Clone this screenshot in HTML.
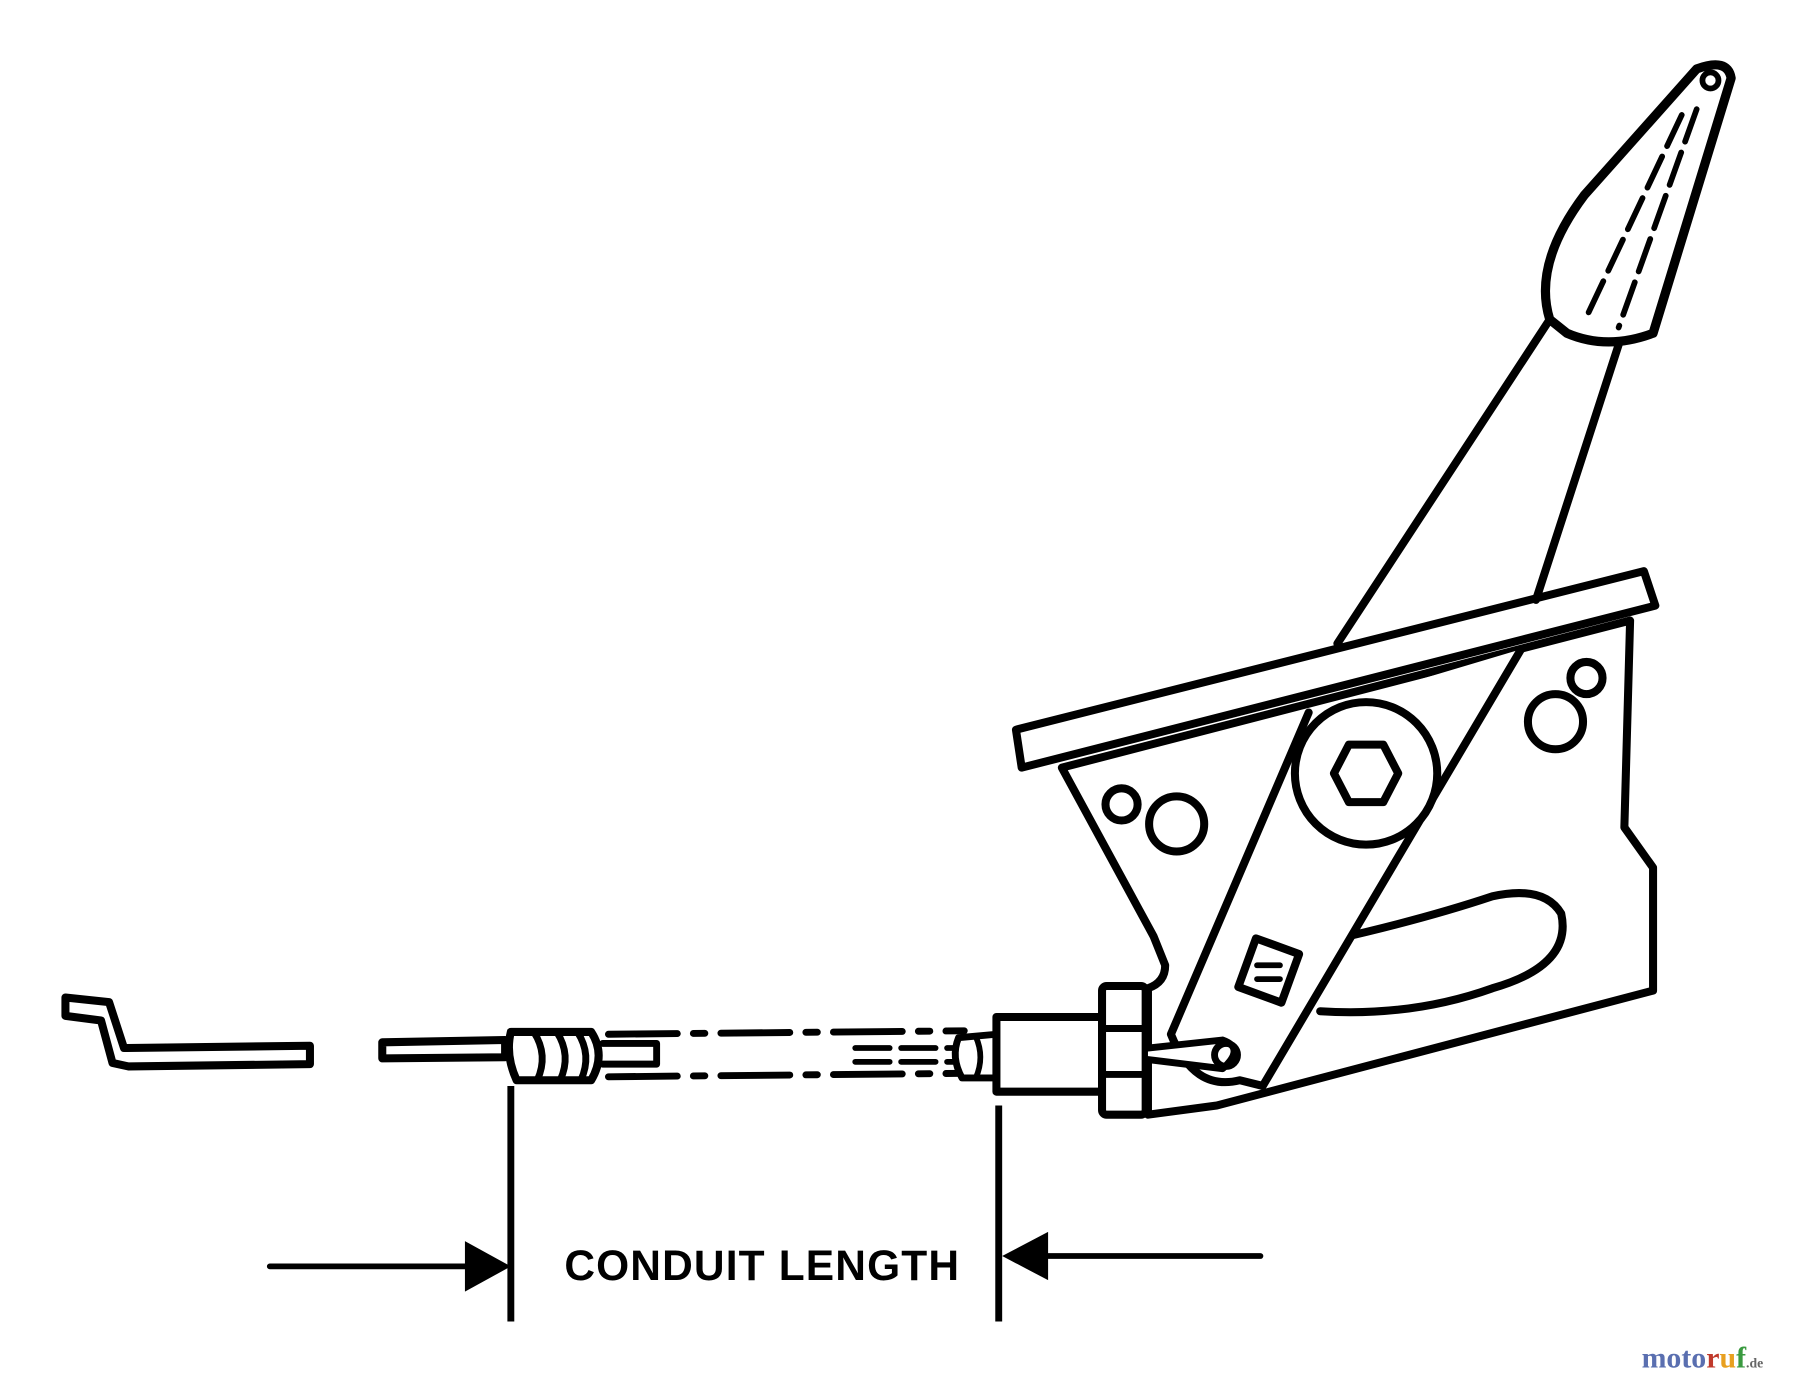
<!DOCTYPE html>
<html><head><style>
html,body{margin:0;padding:0;background:#fff;}
svg{display:block;}
</style></head><body>
<svg width="1800" height="1379" viewBox="0 0 1568 1200" preserveAspectRatio="none" xmlns="http://www.w3.org/2000/svg">
<rect width="1568" height="1200" fill="#fff"/>
<g fill="none" stroke="#000" stroke-linejoin="round" stroke-linecap="round">
<path d="M57,875 L57,868 L95,872 L108,912 L270,910 L270,926 L112,928 L98,925 L88,888 L57,884 Z" stroke-width="7" fill="#fff"/>
<path d="M333,907 L440,905 L440,920 L333,921 Z" stroke-width="7" fill="#fff"/>
<path d="M445,898 L515,898 Q528,918 515,940 L450,940 Q440,918 445,898 Z" stroke-width="7" fill="#fff"/>
<path d="M465,898 Q478,918 468,940 M485,898 Q498,918 488,940 M503,898 Q516,918 506,940" stroke-width="6"/>
<path d="M525,908 L572,908 L572,926 L525,926" stroke-width="6"/>
<path d="M530,900 L840,897" stroke-width="6" stroke-dasharray="60,14,10,14"/>
<path d="M530,937 L840,934" stroke-width="6" stroke-dasharray="60,14,10,14"/>
<path d="M745,912 L830,912 M745,924 L830,924" stroke-width="5" stroke-dasharray="30,10"/>
<path d="M835,903 L868,900 L868,938 L838,938 Q828,920 835,903 Z" stroke-width="6" fill="#fff"/>
<path d="M850,902 Q858,920 850,938" stroke-width="5"/>
<rect x="868" y="885" width="92" height="65" stroke-width="7" fill="#fff"/>
<rect x="960" y="858" width="38" height="112" rx="4" stroke-width="7" fill="#fff"/>
<path d="M960,895 L998,895 M960,935 L998,935" stroke-width="6"/>
<path d="M925,668 L1420,540 L1415,720 L1440,755 L1440,862 L1060,962 L1000,970 L1000,880 L1000,860 Q1015,855 1015,840 L1005,815 Z" stroke-width="7" fill="#fff"/>
<path d="M885,635 L1432,497 L1442,527 L890,668 Z" stroke-width="7" fill="#fff"/>
<circle cx="977" cy="700" r="14" stroke-width="7"/>
<circle cx="1025" cy="717" r="24" stroke-width="7"/>
<circle cx="1382" cy="590" r="14" stroke-width="7"/>
<circle cx="1355" cy="628" r="24" stroke-width="7"/>
<path d="M1160,818 Q1240,800 1300,780 Q1345,770 1360,795 Q1370,840 1300,860 Q1230,885 1150,880" stroke-width="7"/>
<path d="M1140,620 L1020,900 Q1040,950 1080,940 L1100,945 L1325,565" stroke-width="7" fill="#fff"/>
<circle cx="1190" cy="673" r="62" stroke-width="7" fill="#fff"/>
<path d="M1175,648 L1205,648 L1218,673 L1205,698 L1175,698 L1162,673 Z" stroke-width="7"/>
<rect x="1085" y="822" width="40" height="45" transform="rotate(20 1105 845)" stroke-width="7"/>
<path d="M1095,840 L1115,840 M1095,852 L1115,852" stroke-width="5"/>
<path d="M1000,912 L1065,905 Q1085,912 1065,930 L1000,922" stroke-width="6" fill="#fff"/>
<circle cx="1068" cy="918" r="10" stroke-width="6"/>
<path d="M1165,560 L1350,278 M1338,522 L1410,300" stroke-width="7"/>
<path d="M1350,278 Q1335,230 1380,170 L1478,60 Q1505,50 1508,68 L1440,290 Q1400,305 1365,290 Z" stroke-width="8" fill="#fff"/>
<circle cx="1490" cy="70" r="7" stroke-width="5"/>
<path d="M1465,100 L1380,280 M1478,95 L1410,285" stroke-width="5" stroke-dasharray="30,10"/>
<path d="M445,945 L445,1150 M870,962 L870,1150" stroke-width="6" stroke-linecap="butt"/>
<path d="M235,1102 L412,1102 M1098,1093 L905,1093" stroke-width="5"/>
</g>
<path d="M405,1080 L445,1102 L405,1124 Z" fill="#000"/>
<path d="M913,1072 L873,1093 L913,1114 Z" fill="#000"/>
<text x="664" y="1114" text-anchor="middle" font-family="Liberation Sans, sans-serif" font-weight="bold" font-size="37" letter-spacing="1" fill="#000">CONDUIT LENGTH</text>
<text x="1430" y="1190" font-family="Liberation Serif, serif" font-weight="bold" font-size="26" fill="#5a6fb0">moto<tspan fill="#c0392b">r</tspan><tspan fill="#e8a020">u</tspan><tspan fill="#3a9a40">f</tspan><tspan font-size="12" fill="#666">.de</tspan></text>
</svg>
</body></html>
